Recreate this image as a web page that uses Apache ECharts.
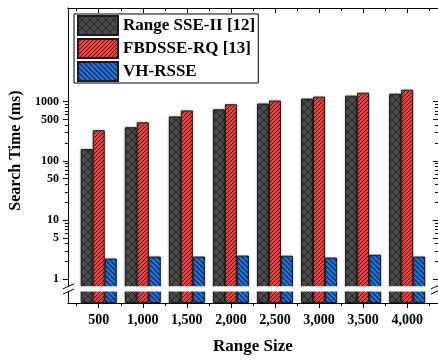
<!DOCTYPE html>
<html><head><meta charset="utf-8">
<script src="https://cdn.jsdelivr.net/npm/echarts@6/dist/echarts.min.js"></script>
<style>html,body{margin:0;padding:0;background:#fff}#c{width:438px;height:360px}</style>
</head><body><div id="c"></div>
<script>
// ---- data ----
const rangeSizes = [500, 1000, 1500, 2000, 2500, 3000, 3500, 4000];
const xTickLabels = ['500', '1,000', '1,500', '2,000', '2,500', '3,000', '3,500', '4,000'];
const seriesNames = ['Range SSE-II [12]', 'FBDSSE-RQ [13]', 'VH-RSSE'];
const rangeSSE = [158, 369, 562, 740, 926, 1122, 1259, 1360];
const fbdsse = [329, 447, 708, 900, 1040, 1212, 1413, 1585];
const vhrsse = [2.24, 2.42, 2.42, 2.51, 2.5, 2.33, 2.6, 2.42];
const yTickLabels = [1, 5, 10, 50, 100, 500, 1000];
const yMinorTicks = [2, 3, 4, 6, 7, 8, 9, 20, 30, 40, 60, 70, 80, 90, 200, 300, 400, 600, 700, 800, 900];
const xMinorTicks = [250, 750, 1250, 1750, 2250, 2750, 3250, 3750, 4250];

const X_MIN = 150, X_MAX = 4350;
const Y_MIN = 0.398, Y_MAX = 38000;
const BREAK_HI = 0.76, BREAK_LO = 0.62;
const FONT = "'Liberation Serif','Times New Roman',serif";
const GRID = { left: 66, right: 0, top: 8, bottom: 53 };
const BAR_W = 12;

function hatch(base, line, size, dirs, lw) {
  const c = document.createElement('canvas');
  c.width = c.height = size;
  const g = c.getContext('2d');
  g.fillStyle = base; g.fillRect(0, 0, size, size);
  g.strokeStyle = line; g.lineWidth = lw;
  g.beginPath();
  for (const k of [-size, 0, size]) {
    if (dirs.includes('/')) { g.moveTo(k, size); g.lineTo(k + size, 0); }
    if (dirs.includes('\\')) { g.moveTo(k, 0); g.lineTo(k + size, size); }
  }
  g.stroke();
  return { image: c, repeat: 'repeat' };
}
const grayPat = hatch('#4a4a4a', '#262626', 8, '/\\', 1);
const redPat = hatch('#ea4241', '#521414', 4, '/', 1);
const bluePat = hatch('#2270d8', '#0c2448', 5, '\\', 1.1);

const chart = echarts.init(document.getElementById('c'), null, { renderer: 'canvas' });

const lineStyle = { color: '#000', width: 1 };
function yAx(pos, ticks, len, inside, showLine, showLabel, extra) {
  return Object.assign({
    type: 'log', position: pos, min: Y_MIN, max: Y_MAX, startValue: Y_MIN,
    axisLine: { show: showLine, lineStyle },
    axisTick: { show: true, customValues: ticks, length: len, inside, lineStyle },
    axisLabel: showLabel ? {
      customValues: yTickLabels, color: '#000', fontFamily: FONT, fontWeight: 'bold', fontSize: 12, margin: 9,
      formatter: v => String(Math.round(v))
    } : { show: false },
    splitLine: { show: false }, minorSplitLine: { show: false }
  }, extra || {});
}
function xAx(pos, ticks, len, inside, showLine, showLabel, extra) {
  return Object.assign({
    type: 'value', position: pos, min: X_MIN, max: X_MAX,
    axisLine: { show: showLine, lineStyle, onZero: false },
    axisTick: { show: true, customValues: ticks, length: len, inside, lineStyle },
    axisLabel: showLabel ? {
      customValues: rangeSizes, color: '#000', fontFamily: FONT, fontWeight: 'bold', fontSize: 14, margin: 10,
      formatter: v => xTickLabels[rangeSizes.indexOf(Math.round(v))] || ''
    } : { show: false },
    splitLine: { show: false }
  }, extra || {});
}

const barBase = { type: 'bar', barWidth: BAR_W, barGap: '0%', xAxisIndex: 0, yAxisIndex: 0 };
function mk(name, vals, pat) {
  return Object.assign({}, barBase, {
    name,
    data: rangeSizes.map((x, i) => [x, vals[i]]),
    itemStyle: { color: pat, borderColor: '#1c1c1c', borderWidth: 1, shadowBlur: 2, shadowColor: 'rgba(0,0,0,0.3)' }
  });
}

chart.setOption({
  animation: false,
  backgroundColor: '#fff',
  grid: Object.assign({ containLabel: false }, GRID),
  legend: {
    orient: 'vertical', left: 74, top: 14, itemWidth: 40, itemHeight: 19, itemGap: 2,
    padding: [1, 3, 1, 3], borderColor: '#000', borderWidth: 1, backgroundColor: '#fff',
    icon: 'rect',
    textStyle: { fontFamily: FONT, fontWeight: 'bold', fontSize: 17, color: '#000' },
    data: seriesNames
  },
  xAxis: [
    xAx('bottom', rangeSizes, 5, false, true, true, {
      name: 'Range Size', nameLocation: 'middle', nameGap: 35,
      nameTextStyle: { fontFamily: FONT, fontWeight: 'bold', fontSize: 17, color: '#000' }
    }),
    xAx('bottom', xMinorTicks, 3, false, false, false),
    xAx('top', rangeSizes, 5, true, true, false),
    xAx('top', xMinorTicks, 3, true, false, false)
  ],
  yAxis: [
    yAx('left', yTickLabels, 5, false, true, true, {
      name: 'Search Time (ms)', nameLocation: 'middle', nameGap: 39, nameRotate: 90,
      nameTextStyle: { fontFamily: FONT, fontWeight: 'bold', fontSize: 16, color: '#000', padding: [0, 0, 0, 10] }
    }),
    yAx('left', yMinorTicks, 3, false, false, false),
    yAx('right', yTickLabels, 5, true, true, false),
    yAx('right', yMinorTicks, 3, true, false, false)
  ],
  series: [mk(seriesNames[0], rangeSSE, grayPat), mk(seriesNames[1], fbdsse, redPat), mk(seriesNames[2], vhrsse, bluePat)]
});

// axis break decoration, positioned through the axes
const yHi = chart.convertToPixel({ yAxisIndex: 0 }, BREAK_HI);
const yLo = chart.convertToPixel({ yAxisIndex: 0 }, BREAK_LO);
const xL = chart.convertToPixel({ xAxisIndex: 0 }, X_MIN);
const xR = chart.convertToPixel({ xAxisIndex: 0 }, X_MAX);
const slash = (x, y) => ({
  type: 'line', z: 101, shape: { x1: x - 5, y1: y + 2.5, x2: x + 6, y2: y - 2.5 },
  style: { stroke: '#000', lineWidth: 1 }
});
chart.setOption({
  graphic: [
    { type: 'rect', z: 100, shape: { x: xL - 2, y: yHi, width: xR - xL + 4, height: yLo - yHi }, style: { fill: '#fff' } },
    slash(xL, yHi), slash(xL, yLo), slash(xR - 2, yHi), slash(xR - 2, yLo)
  ]
});
</script>
</body></html>
